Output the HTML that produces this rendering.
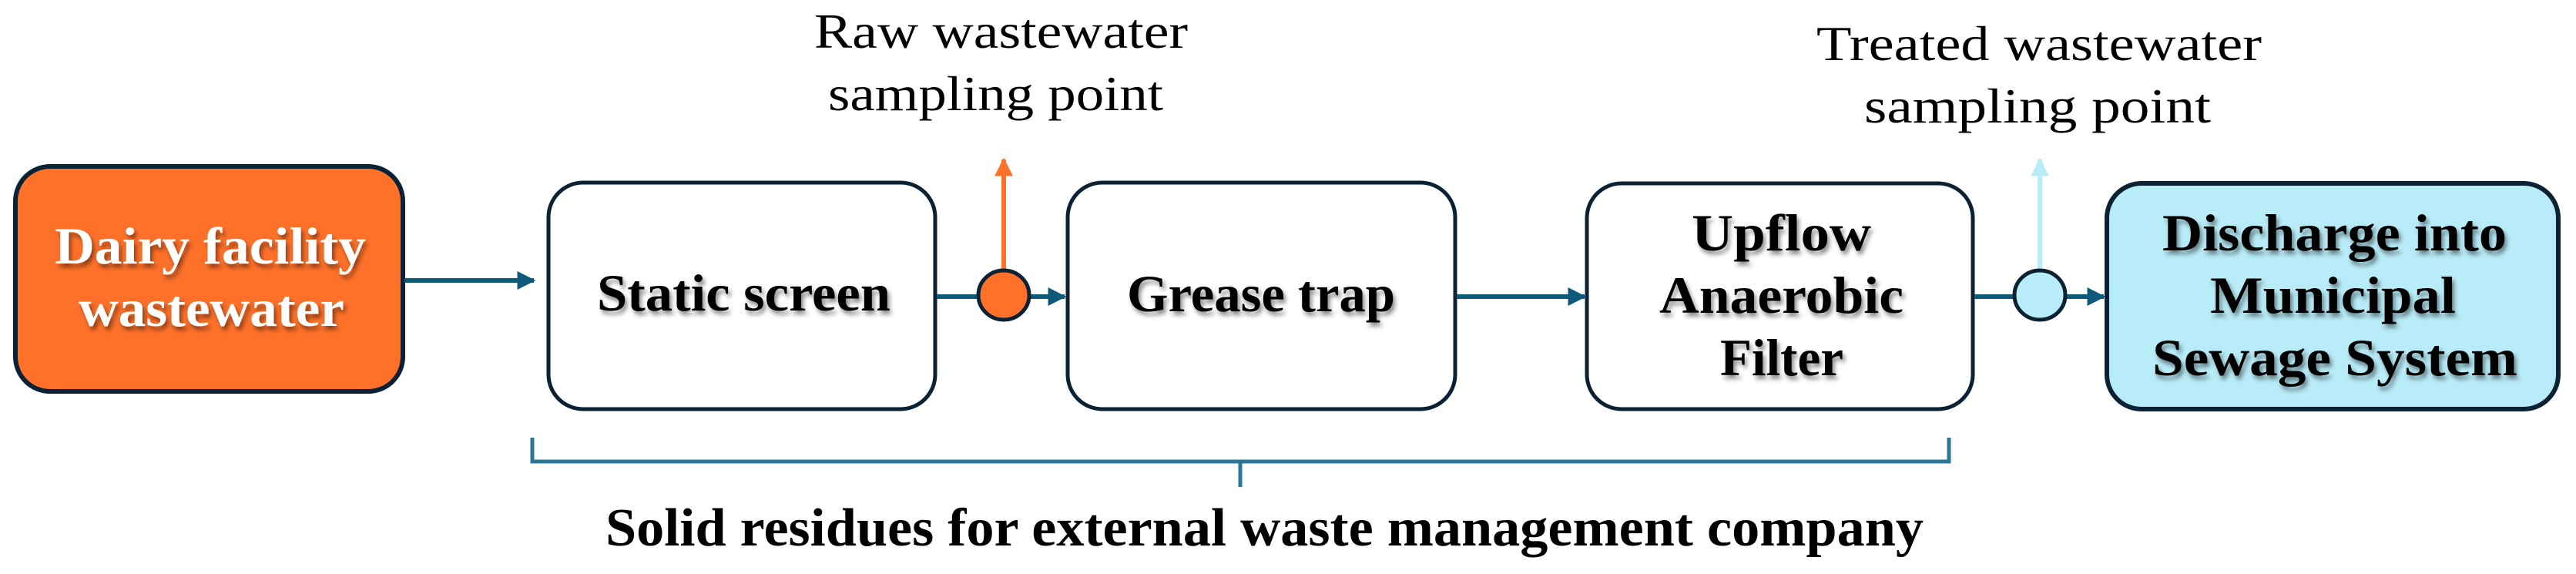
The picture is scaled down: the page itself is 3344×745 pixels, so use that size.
<!DOCTYPE html>
<html><head><meta charset="utf-8"><style>html,body{margin:0;padding:0;background:#fff}svg{display:block}</style></head><body>
<svg width="3344" height="745" viewBox="0 0 3344 745" xmlns="http://www.w3.org/2000/svg">
<defs>
<filter id="sh" x="-10%" y="-10%" width="120%" height="130%"><feDropShadow dx="3" dy="5" stdDeviation="3" flood-color="#000" flood-opacity="0.45"/></filter>
<marker id="ah" viewBox="0 0 10 10" refX="9" refY="5" markerWidth="4" markerHeight="4" orient="auto" markerUnits="strokeWidth"><path d="M0,0 L10,5 L0,10 Z" fill="#0f5a7a"/></marker>
<marker id="ao" viewBox="0 0 10 10" refX="9" refY="5" markerWidth="4" markerHeight="4" orient="auto" markerUnits="strokeWidth"><path d="M0,0 L10,5 L0,10 Z" fill="#ff7129"/></marker>
<marker id="ab" viewBox="0 0 10 10" refX="9" refY="5" markerWidth="4" markerHeight="4" orient="auto" markerUnits="strokeWidth"><path d="M0,0 L10,5 L0,10 Z" fill="#b8ecf8"/></marker>
</defs>
<g font-family="Liberation Serif, serif">
<!-- labels -->
<text x="1057" y="62" font-size="64" textLength="485" lengthAdjust="spacingAndGlyphs">Raw wastewater</text>
<text x="1075" y="143" font-size="64" textLength="435" lengthAdjust="spacingAndGlyphs">sampling point</text>
<text x="2358" y="78" font-size="64" textLength="578" lengthAdjust="spacingAndGlyphs">Treated wastewater</text>
<text x="2420" y="159" font-size="64" textLength="450" lengthAdjust="spacingAndGlyphs">sampling point</text>

<!-- boxes -->
<rect x="20" y="216" width="503" height="292" rx="45" fill="#ff7129" stroke="#0a2233" stroke-width="6"/>
<rect x="712" y="237" width="502" height="294" rx="45" fill="#fff" stroke="#0a2233" stroke-width="5"/>
<rect x="1386" y="237" width="503" height="294" rx="45" fill="#fff" stroke="#0a2233" stroke-width="5"/>
<rect x="2060" y="238" width="501" height="293" rx="45" fill="#fff" stroke="#0a2233" stroke-width="5"/>
<rect x="2735" y="238" width="586" height="293" rx="45" fill="#b8ecf8" stroke="#0a2233" stroke-width="6"/>

<!-- connectors -->
<line x1="525" y1="364" x2="693" y2="364" stroke="#0f5a7a" stroke-width="6" marker-end="url(#ah)"/>
<line x1="1216" y1="385" x2="1270" y2="385" stroke="#0f5a7a" stroke-width="6"/>
<line x1="1336" y1="385" x2="1382" y2="385" stroke="#0f5a7a" stroke-width="6" marker-end="url(#ah)"/>
<line x1="1891" y1="385" x2="2057" y2="385" stroke="#0f5a7a" stroke-width="6" marker-end="url(#ah)"/>
<line x1="2563" y1="385" x2="2615" y2="385" stroke="#0f5a7a" stroke-width="6"/>
<line x1="2681" y1="385" x2="2731" y2="385" stroke="#0f5a7a" stroke-width="6" marker-end="url(#ah)"/>
<line x1="1303" y1="352" x2="1303" y2="207" stroke="#ff7129" stroke-width="6" marker-end="url(#ao)"/>
<line x1="2648" y1="352" x2="2648" y2="207" stroke="#b8ecf8" stroke-width="6" marker-end="url(#ab)"/>
<ellipse cx="1303" cy="383" rx="33" ry="32" fill="#ff7129" stroke="#0a2233" stroke-width="5"/>
<ellipse cx="2648" cy="383" rx="33" ry="32" fill="#b8ecf8" stroke="#0a2233" stroke-width="5"/>

<!-- bracket -->
<path d="M691,568 L691,599 L2530,599 L2530,568 M1610,599 L1610,632" fill="none" stroke="#2a7896" stroke-width="5"/>

<!-- box text -->
<g font-weight="bold" font-size="68" filter="url(#sh)">
<text x="71" y="342" fill="#fff" textLength="404" lengthAdjust="spacingAndGlyphs">Dairy facility</text>
<text x="102" y="423" fill="#fff" textLength="345" lengthAdjust="spacingAndGlyphs">wastewater</text>
<text x="775" y="403" textLength="381" lengthAdjust="spacingAndGlyphs">Static screen</text>
<text x="1463" y="404" textLength="348" lengthAdjust="spacingAndGlyphs">Grease trap</text>
<text x="2196" y="325" textLength="233" lengthAdjust="spacingAndGlyphs">Upflow</text>
<text x="2154" y="406" textLength="317" lengthAdjust="spacingAndGlyphs">Anaerobic</text>
<text x="2233" y="487" textLength="160" lengthAdjust="spacingAndGlyphs">Filter</text>
<text x="2807" y="325" textLength="447" lengthAdjust="spacingAndGlyphs">Discharge into</text>
<text x="2869" y="406" textLength="319" lengthAdjust="spacingAndGlyphs">Municipal</text>
<text x="2794" y="487" textLength="474" lengthAdjust="spacingAndGlyphs">Sewage System</text>
</g>
<text x="786" y="708" font-size="70" font-weight="bold" textLength="1711" lengthAdjust="spacingAndGlyphs">Solid residues for external waste management company</text>
</g>
</svg>
</body></html>
